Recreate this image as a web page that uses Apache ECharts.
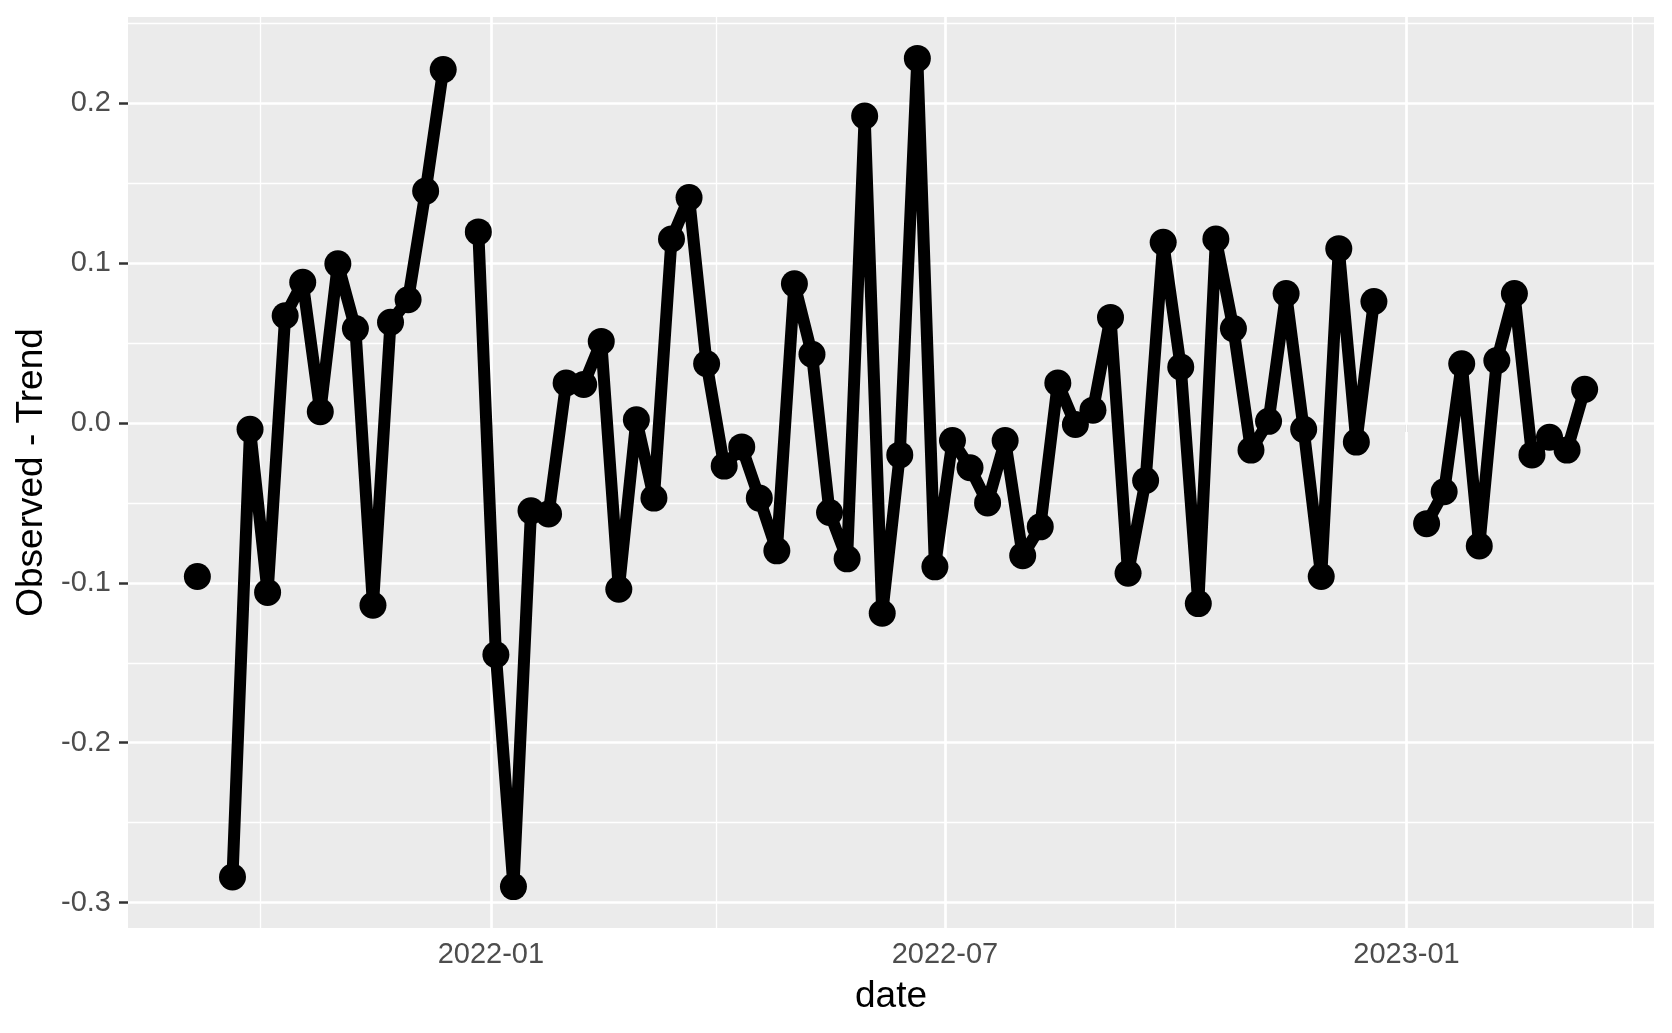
<!DOCTYPE html>
<html>
<head>
<meta charset="utf-8">
<script src="https://cdn.jsdelivr.net/npm/echarts@6/dist/echarts.min.js"></script>
<style>
html,body{margin:0;padding:0;background:#fff;}
#chart{width:1672px;height:1033px;}
</style>
</head>
<body>
<div id="chart"></div>
<script>
// weekly dates
const dates = [
'2021-09-06','2021-09-13','2021-09-20','2021-09-27','2021-10-04','2021-10-11','2021-10-18','2021-10-25',
'2021-11-01','2021-11-08','2021-11-15','2021-11-22','2021-11-29','2021-12-06','2021-12-13','2021-12-20',
'2021-12-27','2022-01-03','2022-01-10','2022-01-17','2022-01-24','2022-01-31','2022-02-07','2022-02-14',
'2022-02-21','2022-02-28','2022-03-07','2022-03-14','2022-03-21','2022-03-28','2022-04-04','2022-04-11',
'2022-04-18','2022-04-25','2022-05-02','2022-05-09','2022-05-16','2022-05-23','2022-05-30','2022-06-06',
'2022-06-13','2022-06-20','2022-06-27','2022-07-04','2022-07-11','2022-07-18','2022-07-25','2022-08-01',
'2022-08-08','2022-08-15','2022-08-22','2022-08-29','2022-09-05','2022-09-12','2022-09-19','2022-09-26',
'2022-10-03','2022-10-10','2022-10-17','2022-10-24','2022-10-31','2022-11-07','2022-11-14','2022-11-21',
'2022-11-28','2022-12-05','2022-12-12','2022-12-19','2022-12-26','2023-01-02','2023-01-09','2023-01-16',
'2023-01-23','2023-01-30','2023-02-06','2023-02-13','2023-02-20','2023-02-27','2023-03-06','2023-03-13'
];
// Observed - Trend (null = missing week)
const residuals = [
-0.096, null, -0.284, -0.004, -0.106, 0.067, 0.088, 0.007,
0.0995, 0.059, -0.114, 0.063, 0.077, 0.145, 0.221, null,
0.1195, -0.145, -0.290, -0.055, -0.057, 0.025, 0.024, 0.051,
-0.104, 0.002, -0.047, 0.115, 0.141, 0.037, -0.027, -0.015,
-0.047, -0.080, 0.087, 0.043, -0.056, -0.085, 0.192, -0.119,
-0.020, 0.228, -0.090, -0.011, -0.028, -0.050, -0.011, -0.083,
-0.065, 0.025, -0.001, 0.008, 0.066, -0.094, -0.036, 0.113,
0.035, -0.113, 0.115, 0.059, -0.017, 0.001, 0.081, -0.004,
-0.096, 0.109, -0.012, 0.076, null, null, -0.063, -0.043,
0.037, -0.077, 0.039, 0.081, -0.020, -0.009, -0.017, 0.021
];
const yMajorTicks = [-0.3, -0.2, -0.1, 0.0, 0.1, 0.2];
const yMinorTicks = [-0.25, -0.15, -0.05, 0.05, 0.15, 0.25];
const xMajorTicks = ['2022-01-01', '2022-07-01', '2023-01-01'];
const xMinorTicks = ['2021-10-01', '2022-04-01', '2022-10-01', '2023-04-01'];

const parse = s => echarts.time.parse(s).getTime();
const tMin = parse(dates[0]), tMax = parse(dates[dates.length - 1]);
const tPad = (tMax - tMin) * 0.05;
const vals = residuals.filter(v => v !== null);
const vMin = Math.min(...vals), vMax = Math.max(...vals);
const vPad = (vMax - vMin) * 0.05;

const FONT = '"Liberation Sans", Arial, sans-serif';
const chart = echarts.init(document.getElementById('chart'), null, {renderer: 'canvas'});

const gridLines = [];
yMajorTicks.forEach(v => gridLines.push({yAxis: v, lineStyle: {width: 2.7}}));
yMinorTicks.forEach(v => gridLines.push({yAxis: v, lineStyle: {width: 1.3}}));
xMajorTicks.forEach(d => gridLines.push({xAxis: parse(d), lineStyle: {width: 2.7}}));
xMinorTicks.forEach(d => gridLines.push({xAxis: parse(d), lineStyle: {width: 1.3}}));

chart.setOption({
  animation: false,
  backgroundColor: '#ffffff',
  grid: {left: 128, right: 18, top: 17, bottom: 105, show: true, backgroundColor: '#EBEBEB', borderWidth: 0},
  xAxis: {
    type: 'value',
    min: tMin - tPad,
    max: tMax + tPad,
    name: 'date',
    nameLocation: 'middle',
    nameGap: 50,
    nameTextStyle: {fontFamily: FONT, fontSize: 37, color: '#000000'},
    axisLine: {show: false},
    axisTick: {show: true, length: 9, lineStyle: {color: '#333333', width: 2.5},
      customValues: xMajorTicks.map(parse)},
    axisLabel: {
      customValues: xMajorTicks.map(parse),
      fontFamily: FONT, fontSize: 29, color: '#4D4D4D', margin: 12,
      formatter: function (v) {
        const d = new Date(v);
        return d.getFullYear() + '-' + String(d.getMonth() + 1).padStart(2, '0');
      }
    },
    splitLine: {show: false}
  },
  yAxis: {
    type: 'value',
    min: vMin - vPad,
    max: vMax + vPad,
    name: 'Observed - Trend',
    nameLocation: 'middle',
    nameRotate: 90,
    nameGap: 75,
    nameTextStyle: {fontFamily: FONT, fontSize: 37, color: '#000000'},
    axisLine: {show: false},
    axisTick: {show: true, length: 9, lineStyle: {color: '#333333', width: 2.5},
      customValues: yMajorTicks},
    axisLabel: {
      customValues: yMajorTicks,
      fontFamily: FONT, fontSize: 29, color: '#4D4D4D', margin: 17,
      formatter: v => v.toFixed(1)
    },
    splitLine: {show: false}
  },
  series: [
    {
      type: 'line',
      data: [],
      silent: true,
      z: 1,
      markLine: {
        silent: true,
        symbol: ['none', 'none'],
        label: {show: false},
        lineStyle: {color: '#FFFFFF', type: 'solid', width: 2.7},
        emphasis: {disabled: true},
        data: gridLines
      }
    },
    {
      type: 'line',
      z: 5,
      data: dates.map((d, i) => [parse(d), residuals[i]]),
      connectNulls: false,
      showSymbol: true,
      symbol: 'circle',
      symbolSize: 27,
      itemStyle: {color: '#000000'},
      lineStyle: {color: '#000000', width: 12, join: 'round', cap: 'butt'},
      emphasis: {disabled: true}
    }
  ]
});
</script>
</body>
</html>
